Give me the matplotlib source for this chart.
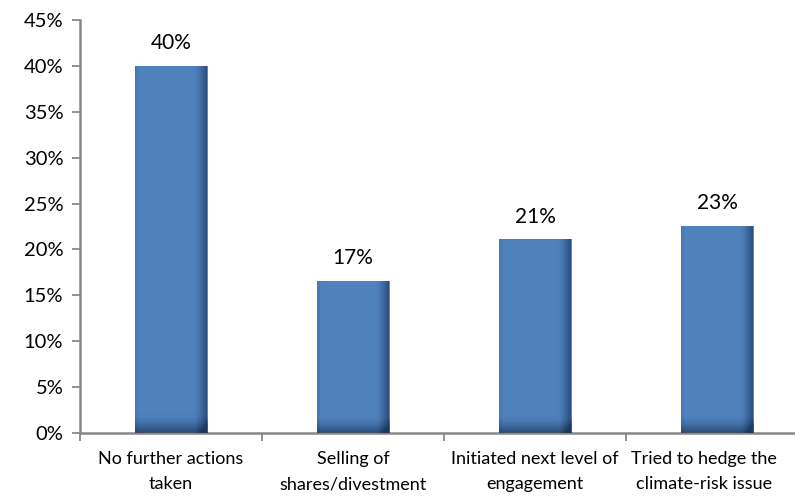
import matplotlib
matplotlib.use("Agg")
import matplotlib.pyplot as plt
import matplotlib.transforms as mtransforms
import numpy as np
from matplotlib.colors import LinearSegmentedColormap

categories = ["No further actions\ntaken", "Selling of\nshares/divestment",
              "Initiated next level of\nengagement", "Tried to hedge the\nclimate-risk issue"]
values = [0.40, 0.166, 0.211, 0.226]
labels = ["40%", "17%", "21%", "23%"]
yticks = [0, 0.05, 0.10, 0.15, 0.20, 0.25, 0.30, 0.35, 0.40, 0.45]

plt.rcParams['font.family'] = ['Lato', 'DejaVu Sans']

fig = plt.figure(figsize=(7.95, 4.98), dpi=100)
W, H = 795, 498
x0, x1, y0, y1 = 80, 808, 433, 20
ax = fig.add_axes([x0 / W, 1 - y0 / H, (x1 - x0) / W, (y0 - y1) / H])

x = np.arange(len(categories))
bars = ax.bar(x, values, width=0.4, color="#4F81BD", zorder=2)

# gradient shading (Excel-like bevel)
cols = 60
hx = np.linspace(0, 1, cols)
horiz = np.where(hx > 0.82, (hx - 0.82) / 0.18, 0) ** 1.3 * 0.55
horiz += np.where(hx < 0.05, (0.05 - hx) / 0.05, 0) * 0.1
cmap = LinearSegmentedColormap.from_list("shade", [(0, 0, 0, 0), (0.05, 0.12, 0.25, 1)])
for b, v in zip(bars, values):
    rows = 80
    top_px = v / 0.45 * (y0 - y1)
    vy = np.linspace(0, top_px, rows)  # pixels from bottom
    vert = np.clip((16 - vy) / 16, 0, 1) ** 1.5 * 0.5
    shade = np.clip(horiz[None, :] + vert[:, None], 0, 0.75)
    rgba = cmap(np.ones_like(shade))
    rgba[..., 3] = shade
    im = ax.imshow(rgba, extent=[b.get_x(), b.get_x() + b.get_width(), 0, v],
                   origin="lower", aspect="auto", zorder=3, interpolation="bilinear")
    im.set_clip_path(b)

for xi, v, lab in zip(x, values, labels):
    ax.annotate(lab, (xi, v), xytext=(0, 9), textcoords="offset points",
                ha="center", va="bottom", fontsize=15, color="#000000")

ax.set_xlim(-0.5, len(categories) - 0.5)
ax.set_ylim(0, 0.45)
ax.set_yticks(yticks)
ax.set_yticklabels([f"{int(round(t*100))}%" for t in yticks], fontsize=14.5)
ax.set_xticks(x)
ax.set_xticklabels(categories, fontsize=13, linespacing=1.7)
ax.set_xticks(np.arange(-0.5, len(categories), 1.0), minor=True)
ax.tick_params(axis="x", which="major", length=0, pad=13)
ax.tick_params(axis="x", which="minor", length=6, color="#888888", width=1.3)
ax.tick_params(axis="y", length=6, color="#888888", width=1.3, pad=6)
# keep last category label inside the figure (shift left like the original)
last = ax.get_xticklabels()[-1]
last.set_transform(last.get_transform() + mtransforms.ScaledTranslation(-13 / 100, 0, fig.dpi_scale_trans))
for s in ["top", "right"]:
    ax.spines[s].set_visible(False)
for s in ["left", "bottom"]:
    ax.spines[s].set_color("#888888")
    ax.spines[s].set_linewidth(1.8)

fig.savefig("out.png", dpi=100)
